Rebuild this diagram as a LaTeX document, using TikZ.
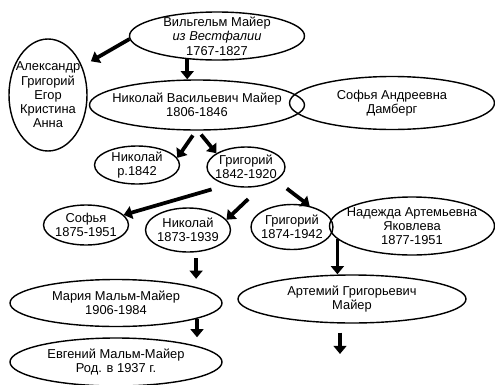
\documentclass[tikz,border=0pt]{standalone}
\usepackage{fontspec}
\setmainfont{Liberation Sans}
\usepackage{tikz}
\usetikzlibrary{arrows.meta,shapes.geometric,calc}

\begin{document}
\begin{tikzpicture}[x=0.03cm,y=-0.03cm,
  font=\fontsize{11}{12.2}\selectfont,
  p/.style={draw,ellipse,line width=1.2pt,inner sep=-10pt,align=center},
  arr/.style={-{Triangle[length=7pt,width=11pt]},line width=3.2pt}]
  \useasboundingbox (0,0) rectangle (495,384);
  % generations, top to bottom
  \node[p,minimum width=5.25cm,minimum height=1.44cm] (wil) at (217,36)
    {Вильгельм Майер\\\textit{из Вестфалии}\\1767-1827};
  \node[p,minimum width=2.34cm,minimum height=3.36cm] (kids) at (48,95)
    {Александр\\Григорий\\Егор\\Кристина\\Анна};
  \node[p,minimum width=6.45cm,minimum height=1.5cm] (nik) at (197,105)
    {Николай Васильевич Майер\\1806-1846};
  \node[p,minimum width=6.15cm,minimum height=1.59cm] (dam) at (392,103)
    {Софья Андреевна\\Дамберг};
  \node[p,minimum width=2.55cm,minimum height=1.14cm] (nik42) at (137,165)
    {Николай\\р.1842};
  \node[p,minimum width=2.34cm,minimum height=1.2cm] (gri) at (246,167)
    {Григорий\\1842-1920};
  \node[p,minimum width=2.55cm,minimum height=1.2cm] (sof) at (86,225)
    {Софья\\1875-1951};
  \node[p,minimum width=2.55cm,minimum height=1.32cm] (nik73) at (188,230)
    {Николай\\1873-1939};
  \node[p,minimum width=2.46cm,minimum height=1.35cm] (gri74) at (292,227)
    {Григорий\\1874-1942};
  \node[p,minimum width=4.95cm,minimum height=1.74cm] (nad) at (412,226)
    {Надежда Артемьевна\\Яковлева\\1877-1951};
  \node[p,minimum width=6.36cm,minimum height=1.41cm] (mar) at (116,303)
    {Мария Мальм-Майер\\1906-1984};
  \node[p,minimum width=6.36cm,minimum height=1.44cm] (evg) at (116,362)
    {Евгений Мальм-Майер\\Род. в 1937 г.};
  \node[p,minimum width=6.84cm,minimum height=1.44cm] (art) at (352,299)
    {Артемий Григорьевич\\Майер};
  \coordinate (cont) at (340,354);
  % descent arrows
  \draw[arr,shorten >=0.3cm] (wil.182) -- (kids.40);
  \draw[arr] (wil.218) -- (wil.218 |- nik.north);
  \draw[arr,shorten <=0.17cm] (nik.268) -- (nik42.10);
  \draw[arr,shorten <=0.15cm] (nik.272) -- (gri.155);
  \draw[arr,shorten <=0.47cm] (gri.223) -- (sof.15);
  \draw[arr,shorten <=0.57cm] (gri.310) -- (nik73.15);
  \draw[arr,shorten <=0.4cm] (gri.336) -- (gri74.50);
  \draw[arr,shorten <=0.18cm] (nik73.290) -- (nik73.290 |- mar.north);
  \draw[arr] (mar.349) -- (mar.349 |- evg.north);
  \draw[arr] (nad.190) -- (nad.190 |- art.north);
  \draw[arr,shorten <=0.27cm] (art.south -| cont) -- (cont);
\end{tikzpicture}
\end{document}
